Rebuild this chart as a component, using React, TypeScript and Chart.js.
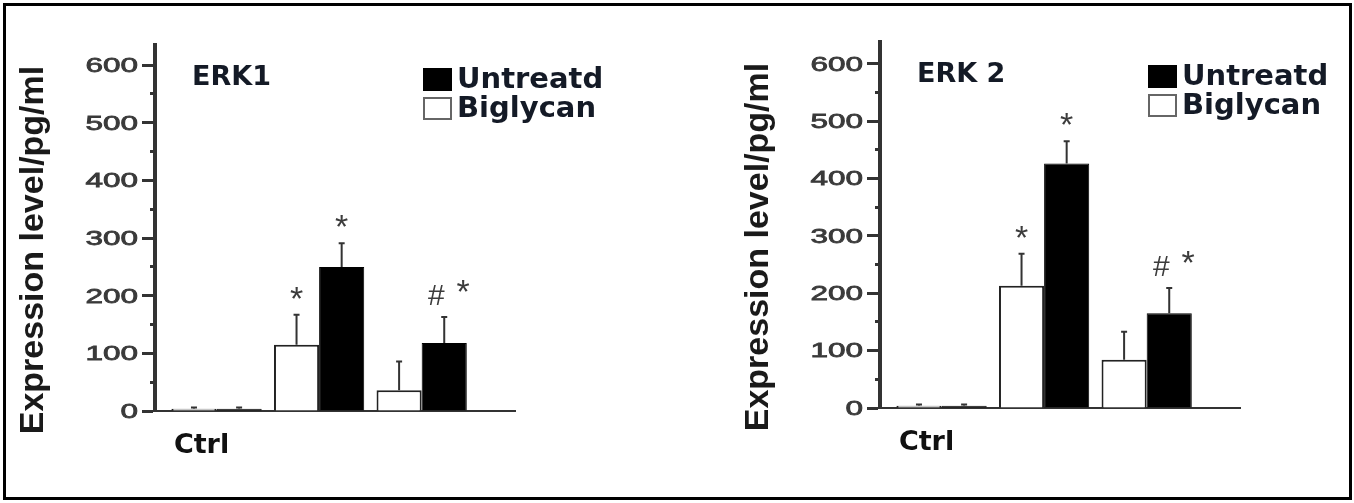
import React, { useEffect, useRef } from 'react';
import { Chart, registerables } from 'chart.js';

Chart.register(...registerables);

// ---------- data ----------
const groupPositions = [1, 2, 3];
const xTickLabels = ['Ctrl'];
const seriesNames = ['Biglycan', 'Untreatd'];
const yTickStep = 50;
const yLabelStep = 100;

const erk1Biglycan = [4, 115, 36];
const erk1BiglycanErr = [2, 52, 50];
const erk1Untreated = [4, 250, 118];
const erk1UntreatedErr = [2, 41, 45];
const erk1BiglycanMarks = ['', '*', ''];
const erk1UntreatedMarks = ['', '*', '# *'];

const erk2Biglycan = [4, 213, 84];
const erk2BiglycanErr = [2, 56, 49];
const erk2Untreated = [4, 426, 165];
const erk2UntreatedErr = [2, 39, 44];
const erk2BiglycanMarks = ['', '*', ''];
const erk2UntreatedMarks = ['', '*', '# *'];

const yAxisTitle = 'Expression level/pg/ml';

type PanelProps = {
  title: string;
  biglycan: number[];
  biglycanErr: number[];
  untreated: number[];
  untreatedErr: number[];
  biglycanMarks: string[];
  untreatedMarks: string[];
  yMax: number;
  left: number;
  top: number;
};

const DARK = '#1a1a1a';

function Panel(props: PanelProps) {
  const ref = useRef<HTMLCanvasElement | null>(null);
  useEffect(() => {
    const canvas = ref.current;
    if (!canvas) return;
    const errs = [props.biglycanErr, props.untreatedErr];
    const marks = [props.biglycanMarks, props.untreatedMarks];

    const decor = {
      id: 'decor',
      afterDatasetsDraw(chart: any) {
        const ctx = chart.ctx;
        const ys = chart.scales.y;
        ctx.save();
        chart.data.datasets.forEach((ds: any, di: number) => {
          const meta = chart.getDatasetMeta(di);
          meta.data.forEach((el: any, i: number) => {
            const v = ds.data[i].y;
            const e = errs[di][i];
            const x = el.x;
            const y0 = ys.getPixelForValue(v);
            const y1 = ys.getPixelForValue(v + e);
            ctx.strokeStyle = '#333';
            ctx.lineWidth = 2;
            ctx.beginPath();
            ctx.moveTo(x, y0);
            ctx.lineTo(x, y1);
            ctx.moveTo(x - 3, y1);
            ctx.lineTo(x + 3, y1);
            ctx.stroke();
            const m = marks[di][i];
            if (m) {
              ctx.fillStyle = '#3c3c3c';
              ctx.textBaseline = 'alphabetic';
              ctx.textAlign = 'center';
              if (m.indexOf('#') >= 0) {
                ctx.font = '30px "Liberation Sans"';
                ctx.fillText('#', x - 8, y1 - 12);
                ctx.font = '34px "Liberation Sans"';
                ctx.fillText('*', x + 19, y1 - 14);
              } else {
                ctx.font = '34px "Liberation Sans"';
                ctx.fillText('*', x, y1 - 5);
              }
            }
          });
        });
        ctx.restore();
      },
      afterDraw(chart: any) {
        const ctx = chart.ctx;
        const ys = chart.scales.y;
        const area = chart.chartArea;
        ctx.save();
        // y tick labels (stretched like the source)
        ctx.fillStyle = '#3a3a3a';
        ctx.strokeStyle = '#3a3a3a';
        ctx.lineWidth = 0.8;
        ctx.font = '21px "Liberation Sans"';
        ctx.textAlign = 'right';
        ctx.textBaseline = 'middle';
        ys.ticks.forEach((t: any) => {
          if (t.value % yLabelStep !== 0) return;
          const y = ys.getPixelForValue(t.value);
          ctx.save();
          ctx.translate(area.left - 17, y + 1);
          ctx.scale(1.5, 1);
          ctx.fillText(String(t.value), 0, 0);
          ctx.strokeText(String(t.value), 0, 0);
          ctx.restore();
        });
        // y axis title
        ctx.save();
        ctx.translate(area.left - 112, area.bottom - 161);
        ctx.rotate(-Math.PI / 2);
        ctx.fillStyle = DARK;
        ctx.font = 'bold 34px "Liberation Sans"';
        ctx.textAlign = 'center';
        ctx.textBaseline = 'alphabetic';
        ctx.fillText(yAxisTitle, 0, 0);
        ctx.restore();
        // panel title
        ctx.fillStyle = '#141a26';
        ctx.font = 'bold 27px "DejaVu Sans"';
        ctx.textAlign = 'left';
        ctx.textBaseline = 'alphabetic';
        ctx.fillText(props.title, area.left + 37, area.top + 40);
        // legend (Untreatd first, then Biglycan)
        const order = [1, 0];
        order.forEach((di, row) => {
          const ds = chart.data.datasets[di];
          const bx = area.left + 269;
          const by = area.top + 24 + row * 29;
          ctx.fillStyle = ds.backgroundColor;
          ctx.fillRect(bx, by, 27, 21);
          ctx.strokeStyle = di === 1 ? '#000' : '#666';
          ctx.lineWidth = 2;
          ctx.strokeRect(bx, by, 27, 21);
          ctx.fillStyle = '#141a26';
          ctx.font = 'bold 29px "DejaVu Sans"';
          ctx.fillText(ds.label, area.left + 302, area.top + 43 + row * 29);
        });
        ctx.restore();
      },
    };

    const mk = (vals: number[]) => groupPositions.map((x, i) => ({ x, y: vals[i] }));

    const chart = new Chart(canvas, {
      type: 'bar',
      data: {
        datasets: [
          {
            label: seriesNames[0],
            data: mk(props.biglycan) as any,
            backgroundColor: '#ffffff',
            borderColor: '#222222',
            borderWidth: 2,
            categoryPercentage: 0.88,
            barPercentage: 1,
          },
          {
            label: seriesNames[1],
            data: mk(props.untreated) as any,
            backgroundColor: '#000000',
            borderColor: '#000000',
            borderWidth: 1,
            categoryPercentage: 0.88,
            barPercentage: 1,
          },
        ],
      },
      options: {
        responsive: false,
        animation: false,
        events: [],
        layout: { padding: { left: 0, top: 45, right: 165, bottom: 22 } },
        plugins: { legend: { display: false }, tooltip: { enabled: false } },
        scales: {
          x: {
            type: 'linear',
            min: 0.4,
            max: 3.91,
            offset: false,
            grid: { display: false },
            border: { display: true, color: '#333', width: 2 },
            afterBuildTicks: (s: any) => {
              s.ticks = [{ value: groupPositions[0] }];
            },
            ticks: {
              callback: (_v: any, i: number) => xTickLabels[i] ?? '',
              font: { family: 'DejaVu Sans', size: 27, weight: 'bold' },
              color: '#111',
              labelOffset: -15,
              padding: 11,
              maxRotation: 0,
              autoSkip: false,
            },
            afterFit: (s: any) => {
              s.height = 70;
            },
          },
          y: {
            min: 0,
            max: props.yMax,
            ticks: { stepSize: yTickStep, includeBounds: false, display: false },
            grid: {
              drawOnChartArea: false,
              drawTicks: true,
              tickLength: 13,
              tickWidth: 3,
              tickColor: '#333',
              tickBorderDash: (c: any) =>
                c.tick && c.tick.value % yLabelStep !== 0 ? [0, 8, 4, 50] : [],
            },
            border: { display: true, color: '#333', width: 4 },
            afterFit: (s: any) => {
              s.width = 155;
            },
          },
        },
      } as any,
      plugins: [decor],
    });
    return () => chart.destroy();
  }, []);
  return (
    <canvas
      ref={ref}
      width={680}
      height={503}
      style={{ position: 'absolute', left: props.left, top: props.top, width: 680, height: 503 }}
    />
  );
}

export default function App() {
  return (
    <div
      style={{
        position: 'fixed',
        left: 0,
        top: 0,
        width: 1354,
        height: 503,
        background: '#fff',
        overflow: 'hidden',
      }}
    >
      <Panel
        title="ERK1"
        biglycan={erk1Biglycan}
        biglycanErr={erk1BiglycanErr}
        untreated={erk1Untreated}
        untreatedErr={erk1UntreatedErr}
        biglycanMarks={erk1BiglycanMarks}
        untreatedMarks={erk1UntreatedMarks}
        yMax={635}
        left={0}
        top={0}
      />
      <Panel
        title="ERK 2"
        biglycan={erk2Biglycan}
        biglycanErr={erk2BiglycanErr}
        untreated={erk2Untreated}
        untreatedErr={erk2UntreatedErr}
        biglycanMarks={erk2BiglycanMarks}
        untreatedMarks={erk2UntreatedMarks}
        yMax={638}
        left={725}
        top={-3}
      />
      <div
        style={{
          position: 'absolute',
          left: 3,
          top: 3,
          width: 1349,
          height: 497,
          boxSizing: 'border-box',
          border: '3px solid #000',
          pointerEvents: 'none',
        }}
      />
    </div>
  );
}
